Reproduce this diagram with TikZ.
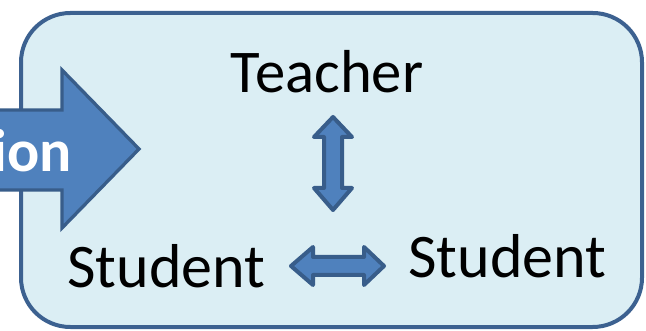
\documentclass[tikz,border=0pt]{standalone}
\usepackage{fontspec}
\setmainfont{Carlito}
\definecolor{boxfill}{HTML}{DBEEF4}
\definecolor{boxline}{HTML}{3C6190}
\definecolor{arrowfill}{HTML}{4F81BD}
\definecolor{arrowline}{HTML}{385D8A}

\begin{document}
\begin{tikzpicture}[
        x=0.75pt, y=-0.75pt,
        role/.style={inner sep=0pt, font=\fontsize{46.5}{50}\selectfont},
        twoway/.style={fill=arrowfill, draw=arrowline, line width=3pt, line join=round}
        ]
    \useasboundingbox (0,0) rectangle (646,331);

    % the classroom
    \draw[fill=boxfill, draw=boxline, line width=3pt, rounded corners=37pt]
        (21,13) rectangle (642,327);

    % incoming arrow from the left
    \draw[fill=arrowfill, draw=arrowline, line width=2.5pt, line join=miter]
        (-5,110) -- (62,110) -- (62,70) -- (139,149) -- (62,228) -- (62,190) -- (-5,190) -- cycle;
    \node (flow) at (72,172) [anchor=base east, inner sep=0pt, text=white,
        font=\fontsize{45}{50}\selectfont\bfseries] {ion};

    \node (teacher) at (327,93) [role, anchor=base, font=\fontsize{45.5}{50}\selectfont] {Teacher};
    \node (pupilA) at (166.5,288) [role, anchor=base] {Student};
    \node (pupilB) at (507.5,278) [role, anchor=base] {Student};

    % teacher <-> student
    \draw[twoway] (333,117) -- (352,137) -- (342,137) -- (342,188) -- (352,188)
        -- (333,210) -- (314,188) -- (324,188) -- (324,137) -- (314,137) -- cycle;
    % student <-> student
    \draw[twoway] (291,266) -- (313,247) -- (313,257) -- (364,257) -- (364,247)
        -- (384,266) -- (364,285) -- (364,275) -- (313,275) -- (313,285) -- cycle;
\end{tikzpicture}
\end{document}
